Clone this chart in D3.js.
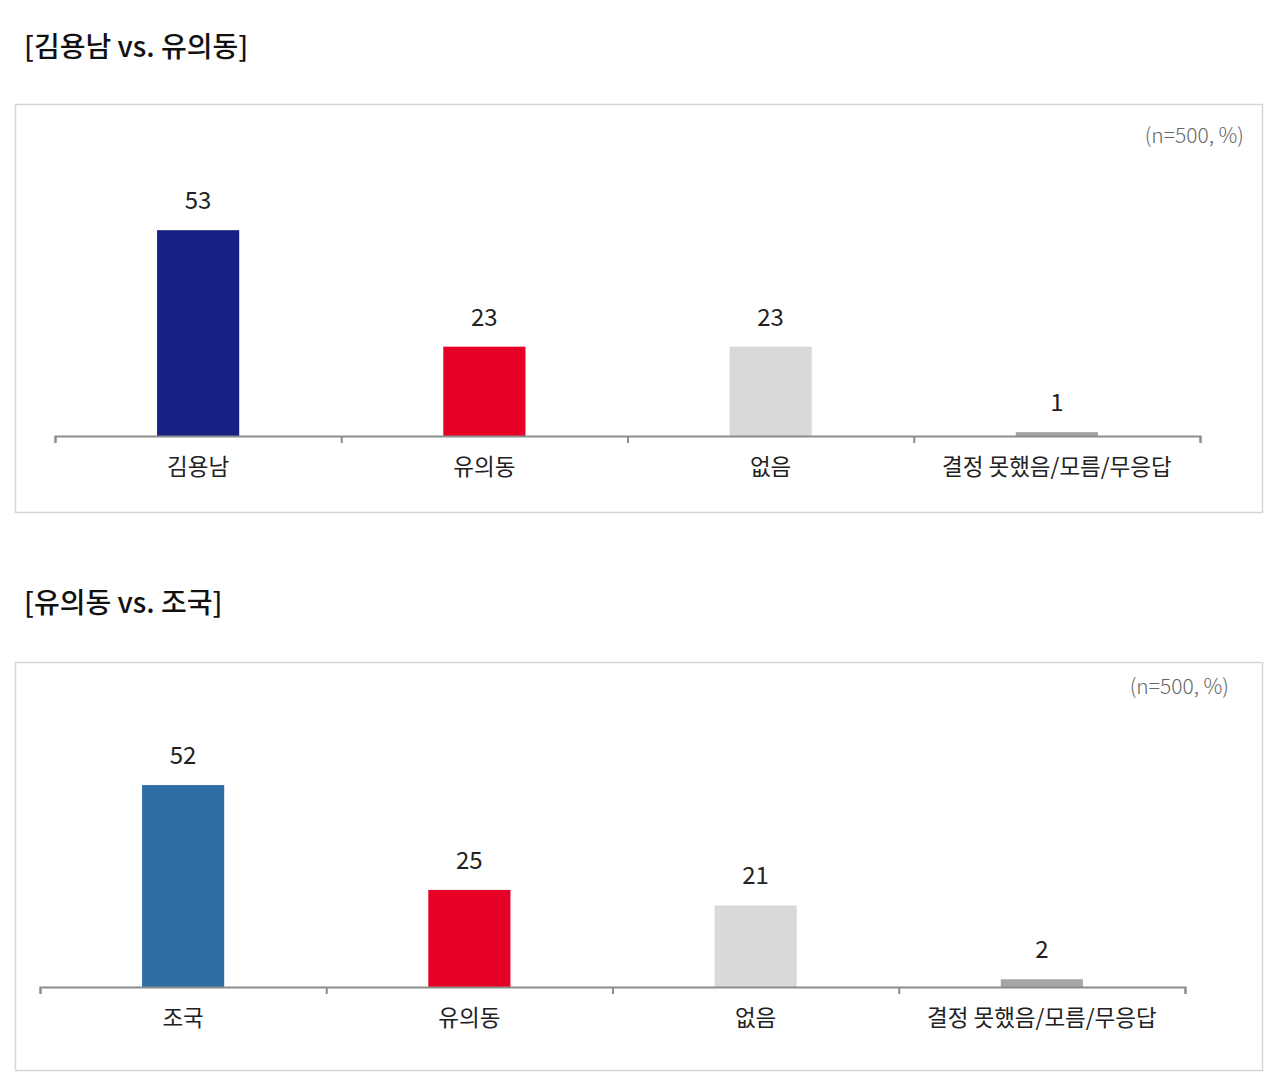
<!DOCTYPE html>
<html>
<head>
<meta charset="utf-8">
<script src="https://cdn.jsdelivr.net/npm/d3@7"></script>
<style>
  html, body { margin: 0; padding: 0; background: #fff; }
  svg { display: block; font-family: "Noto Sans CJK KR", "Noto Sans", sans-serif; }
</style>
</head>
<body>
<svg id="chart" width="1280" height="1090"></svg>
<script>
// ---- data ----
const titles = ["[김용남 vs. 유의동]", "[유의동 vs. 조국]"];
const categories1 = ["김용남", "유의동", "없음", "결정 못했음/모름/무응답"];
const values1 = [53, 23, 23, 1];
const colors1 = ["#172183", "#e60026", "#d9d9d9", "#a6a6a6"];
const categories2 = ["조국", "유의동", "없음", "결정 못했음/모름/무응답"];
const values2 = [52, 25, 21, 2];
const colors2 = ["#2f6da6", "#e60026", "#d9d9d9", "#a6a6a6"];
const noteLabel = "(n=500, %)";

const svg = d3.select("#chart");

const charts = [
  { title: titles[0], cats: categories1, vals: values1, cols: colors1,
    titleY: 57, panelY: 104, axisX0: 55, axisX1: 1200, axisY: 436, noteX: 1244, noteY: 143 },
  { title: titles[1], cats: categories2, vals: values2, cols: colors2,
    titleY: 613, panelY: 662, axisX0: 40, axisX1: 1185, axisY: 987, noteX: 1229, noteY: 694 }
];

charts.forEach(c => {
  // title
  svg.append("text")
    .attr("x", 24).attr("y", c.titleY)
    .attr("font-size", 28).attr("font-weight", 500).attr("fill", "#111")
    .attr("textLength", null)
    .text(c.title);

  // panel
  svg.append("rect")
    .attr("x", 15.5).attr("y", c.panelY + 0.5)
    .attr("width", 1247).attr("height", 408)
    .attr("fill", "#fff").attr("stroke", "#d6d6d6").attr("stroke-width", 1.5);

  // note
  svg.append("text")
    .attr("x", c.noteX).attr("y", c.noteY)
    .attr("text-anchor", "end")
    .attr("font-size", 21).attr("font-weight", 300).attr("fill", "#666")
    .text(noteLabel);

  const x = d3.scaleBand()
    .domain(c.cats)
    .range([c.axisX0, c.axisX1])
    .paddingInner(0.713)
    .paddingOuter(0.3565);

  const y = d3.scaleLinear()
    .domain([0, 60])
    .range([c.axisY, c.axisY - 233]);

  const g = svg.append("g");

  g.selectAll("rect.bar")
    .data(c.vals)
    .join("rect")
    .attr("class", "bar")
    .attr("x", (d, i) => x(c.cats[i]))
    .attr("y", d => y(d))
    .attr("width", x.bandwidth())
    .attr("height", d => y(0) - y(d))
    .attr("fill", (d, i) => c.cols[i]);

  g.selectAll("text.val")
    .data(c.vals)
    .join("text")
    .attr("class", "val")
    .attr("x", (d, i) => x(c.cats[i]) + x.bandwidth() / 2)
    .attr("y", d => y(d) - 21)
    .attr("text-anchor", "middle")
    .attr("font-size", 24).attr("fill", "#222")
    .text(d => d);

  // axis with ticks at band boundaries
  const bx = d3.scaleLinear().domain([0, c.cats.length]).range([c.axisX0, c.axisX1]);
  const axis = d3.axisBottom(bx)
    .ticks(c.cats.length)
    .tickSizeInner(7).tickSizeOuter(7)
    .tickFormat("");
  const ag = svg.append("g")
    .attr("transform", `translate(0,${c.axisY})`)
    .call(axis);
  ag.select(".domain").attr("stroke", "#8c8c8c").attr("stroke-width", 2);
  ag.selectAll(".tick line").attr("stroke", "#8c8c8c").attr("stroke-width", 2);

  g.selectAll("text.cat")
    .data(c.cats)
    .join("text")
    .attr("class", "cat")
    .attr("x", d => x(d) + x.bandwidth() / 2)
    .attr("y", c.axisY + 39)
    .attr("text-anchor", "middle")
    .attr("font-size", 22.5).attr("fill", "#222")
    .text(d => d);
});
</script>
</body>
</html>
